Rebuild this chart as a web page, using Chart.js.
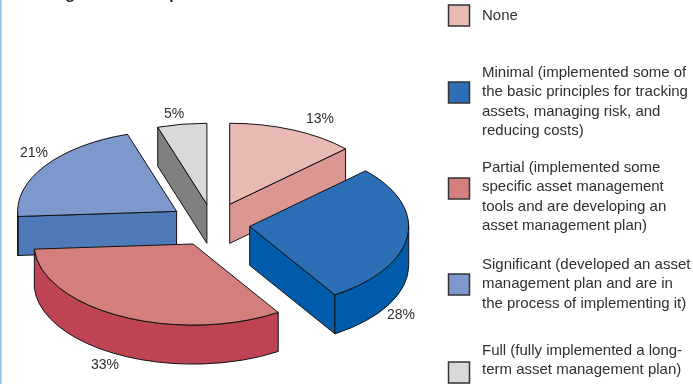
<!DOCTYPE html>
<html>
<head>
<meta charset="utf-8">
<style>
  html, body { margin: 0; padding: 0; background: #ffffff; }
  canvas { display: block; }
</style>
<script src="https://cdn.jsdelivr.net/npm/chart.js@4/dist/chart.umd.min.js"></script>
</head>
<body>
<canvas id="chart" width="693" height="384"></canvas>
<script>
// Degree of asset management implementation, share of respondents (%)
const categories = ['None', 'Minimal', 'Partial', 'Significant', 'Full'];
const shares = [13, 28, 33, 21, 5];

// Legend wording, one entry per line of text
const legendLines = [
  ['None'],
  ['Minimal (implemented some of', 'the basic principles for tracking', 'assets, managing risk, and', 'reducing costs)'],
  ['Partial (implemented some', 'specific asset management', 'tools and are developing an', 'asset management plan)'],
  ['Significant (developed an asset', 'management plan and are in', 'the process of implementing it)'],
  ['Full (fully implemented a long-', 'term asset management plan)']
];

// Slice styling
const topColors = ['#e9bab4', '#2d6fb6', '#d47f7e', '#7e97cc', '#d9d9d9'];
const sideColors = ['#dd9793', '#005bab', '#bf4453', '#4f7aba', '#808080'];
const explode = [42, 37, 44, 44, 39];
const paintOrder = [0, 4, 3, 1, 2];

// Layout of the tilted pie and its annotations
const TILT = 0.51;
const DEPTH = 39;
const PIE_RADIUS = 159;
const FONT = '"Liberation Sans", Arial, sans-serif';
const INK = '#2f2f2f';
const valueLabelAt = [[320, 119], [401, 315], [105, 365], [34, 153], [174, 114]];
const swatchTop = [5, 82, 178, 274, 362];
const firstBaseline = [20, 77, 172, 269, 355];
const LINE_STEP = 19.4;
const clippedHeading = [['g', 65], ['p', 169]];

function outlinePath(ctx, cx, cy, a0, a1) {
  ctx.beginPath();
  ctx.moveTo(cx, cy);
  ctx.ellipse(cx, cy, PIE_RADIUS, PIE_RADIUS * TILT, 0, a0, a1);
  ctx.closePath();
}

function radialWall(ctx, cx, cy, a, fill) {
  const px = cx + PIE_RADIUS * Math.cos(a);
  const py = cy + PIE_RADIUS * TILT * Math.sin(a);
  ctx.beginPath();
  ctx.moveTo(cx, cy);
  ctx.lineTo(px, py);
  ctx.lineTo(px, py + DEPTH);
  ctx.lineTo(cx, cy + DEPTH);
  ctx.closePath();
  ctx.fillStyle = fill;
  ctx.fill();
  ctx.stroke();
}

function rimWall(ctx, cx, cy, a0, a1, fill) {
  const from = Math.max(a0, 0);
  const to = Math.min(a1, Math.PI);
  if (to <= from) return;
  const ry = PIE_RADIUS * TILT;
  ctx.beginPath();
  ctx.ellipse(cx, cy, PIE_RADIUS, ry, 0, from, to);
  ctx.lineTo(cx + PIE_RADIUS * Math.cos(to), cy + ry * Math.sin(to) + DEPTH);
  ctx.ellipse(cx, cy + DEPTH, PIE_RADIUS, ry, 0, to, from, true);
  ctx.closePath();
  ctx.fillStyle = fill;
  ctx.fill();
  ctx.stroke();
}

// Replaces the flat arcs with extruded, tilted wedges built from the arc elements
const tiltedPie = {
  id: 'tiltedPie',
  beforeDraw(chart) {
    const ctx = chart.ctx;
    ctx.save();
    ctx.fillStyle = '#ffffff';
    ctx.fillRect(0, 0, chart.width, chart.height);
    ctx.fillStyle = '#8dbde3';
    ctx.fillRect(0, 0, 1.5, chart.height);
    ctx.restore();
  },
  beforeDatasetsDraw(chart) {
    const ctx = chart.ctx;
    const arcs = chart.getDatasetMeta(0).data;
    ctx.save();
    ctx.lineJoin = 'round';
    paintOrder.forEach((i) => {
      const arc = arcs[i];
      const { x, y, startAngle, endAngle } = arc.getProps(['x', 'y', 'startAngle', 'endAngle'], true);
      const mid = (startAngle + endAngle) / 2;
      const off = arc.options.offset;
      const cx = x + off * Math.cos(mid);
      const cy = y + off * TILT * Math.sin(mid);
      ctx.strokeStyle = arc.options.borderColor;
      ctx.lineWidth = arc.options.borderWidth;
      if (-Math.cos(startAngle) > 0.001) radialWall(ctx, cx, cy, startAngle, sideColors[i]);
      if (Math.cos(endAngle) > 0.001) radialWall(ctx, cx, cy, endAngle, sideColors[i]);
      rimWall(ctx, cx, cy, startAngle, endAngle, sideColors[i]);
      outlinePath(ctx, cx, cy, startAngle, endAngle);
      ctx.fillStyle = arc.options.backgroundColor;
      ctx.fill();
      ctx.stroke();
    });
    ctx.restore();
    return false;
  },
  afterDraw(chart) {
    const ctx = chart.ctx;
    ctx.save();
    ctx.fillStyle = INK;
    ctx.textBaseline = 'alphabetic';

    // Tail of the heading that runs off the top edge
    ctx.textAlign = 'left';
    ctx.font = 'bold 17px ' + FONT;
    clippedHeading.forEach(([ch, x]) => ctx.fillText(ch, x, -1));

    // Value labels
    ctx.font = '14px ' + FONT;
    ctx.textAlign = 'center';
    ctx.textBaseline = 'middle';
    shares.forEach((v, i) => {
      ctx.fillText(v + '%', valueLabelAt[i][0], valueLabelAt[i][1]);
    });

    // Legend
    ctx.font = '15px ' + FONT;
    ctx.textAlign = 'left';
    ctx.textBaseline = 'alphabetic';
    categories.forEach((name, i) => {
      ctx.fillStyle = topColors[i];
      ctx.strokeStyle = '#333333';
      ctx.lineWidth = 1.5;
      ctx.fillRect(448.5, swatchTop[i], 21, 21);
      ctx.strokeRect(448.5, swatchTop[i], 21, 21);
      ctx.fillStyle = INK;
      legendLines[i].forEach((line, n) => {
        ctx.fillText(line, 482, firstBaseline[i] + n * LINE_STEP);
      });
    });
    ctx.restore();
  }
};

new Chart(document.getElementById('chart'), {
  type: 'pie',
  data: {
    labels: categories,
    datasets: [{
      data: shares,
      backgroundColor: topColors,
      borderColor: '#111111',
      borderWidth: 1,
      offset: explode
    }]
  },
  options: {
    responsive: false,
    animation: false,
    radius: PIE_RADIUS,
    // Places the pie centre at x 213, y 224 on the page
    layout: { padding: { left: 0, right: 267, top: 64, bottom: 0 } },
    plugins: { legend: { display: false }, tooltip: { enabled: false } }
  },
  plugins: [tiltedPie]
});
</script>
</body>
</html>
